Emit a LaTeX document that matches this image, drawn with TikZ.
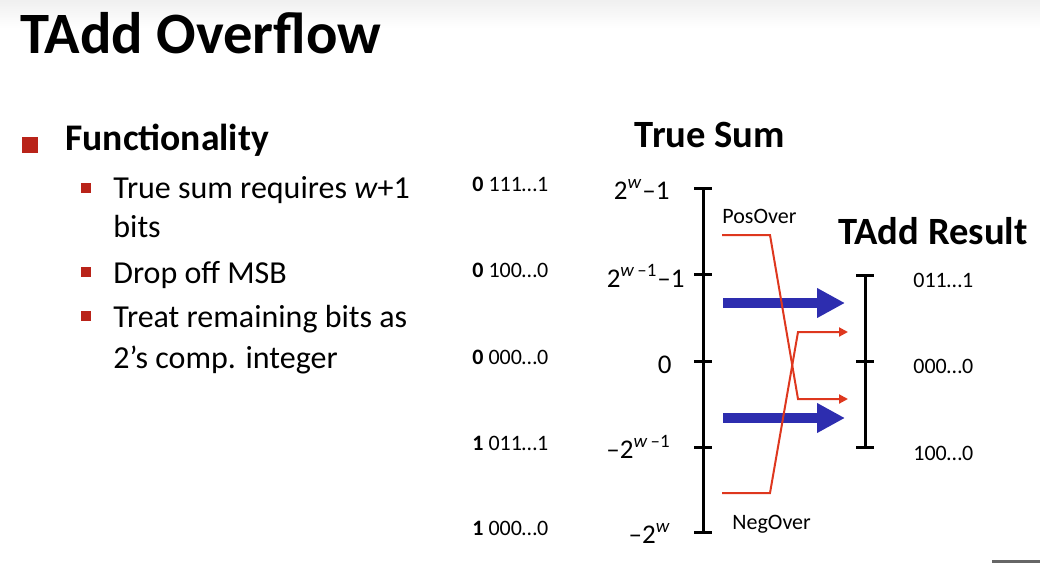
\documentclass[tikz,border=0pt]{standalone}
\usepackage{fontspec}
\setmainfont{Carlito}
\usetikzlibrary{arrows.meta}

\definecolor{slidered}{RGB}{185,35,25}
\definecolor{overred}{RGB}{222,55,30}
\definecolor{sumblue}{RGB}{45,45,175}

\tikzset{
  item/.style = {anchor=base west, inner sep=0pt, font=\fontsize{16}{18}\selectfont},
  bin/.style  = {anchor=base west, inner sep=0pt, font=\fontsize{11}{13}\selectfont},
  val/.style  = {anchor=base east, inner sep=0pt, font=\fontsize{13.5}{15}\selectfont},
  res/.style  = {anchor=base west, inner sep=0pt, font=\fontsize{11}{13}\selectfont},
  tag/.style  = {anchor=base west, inner sep=0pt, font=\fontsize{11}{13}\selectfont},
  head/.style = {inner sep=0pt, font=\bfseries\fontsize{19.3}{22}\selectfont},
  axis/.style = {line width=1.5pt},
  fat/.style  = {draw=sumblue, line width=5pt, -{Triangle[length=14pt,width=14pt]}},
  over/.style = {draw=overred, line width=1pt, -{Triangle[length=4.5pt,width=4.5pt]}}
}

\begin{document}
\begin{tikzpicture}[x = 0.5pt, y = -0.5pt]
\useasboundingbox (0, 0) rectangle (1040, 563);
\shade[top color = black!6, bottom color = white] (0, 0) rectangle (1040, 28);
%\draw[very thin, color = gray](0, 0) grid[step = 50] (1040, 563);
\node (title) at (20, 53) [anchor = base west, inner sep = 0pt, font = \bfseries\fontsize{29.3}{34}\selectfont] {TAdd Overflow};
\fill[slidered] (22, 137) rectangle (38, 153);
\node (func) at (65, 150) [anchor = base west, inner sep = 0pt, font = \bfseries\fontsize{18.8}{21}\selectfont] {Functionality};
\foreach \y in {188, 272, 316}
  \fill[slidered] (81, \y - 5) rectangle (91, \y + 5);
\node (req) at (113, 198) [item] {True sum requires \textit{w}+1};
\node (bits) at (113, 237) [item] {bits};
\node (msb) at (113, 283) [item] {Drop off MSB};
\node (treat) at (113, 327) [item] {Treat remaining bits as};
\node (comp) at (113, 368) [item] {2’s comp. integer};
% true sum scale
\node (bin0) at (472, 191) [bin] {\textbf{0} 111…1};
\node (bin1) at (472, 277) [bin] {\textbf{0} 100…0};
\node (bin2) at (472, 364) [bin] {\textbf{0} 000…0};
\node (bin3) at (472, 450) [bin] {\textbf{1} 011…1};
\node (bin4) at (472, 535) [bin] {\textbf{1} 000…0};
\draw[axis] (703, 188) -- (703, 532);
\foreach \y in {188, 274, 361, 447, 532}
  \draw[axis] (694, \y) -- (712, \y);
\node (val0) at (670, 199) [val] {2\textsuperscript{\textit{w}}–1};
\node (val1) at (685, 287) [val] {2\textsuperscript{\textit{w}\,–1}–1};
\node (val2) at (672, 373) [val] {0};
\node (val3) at (671, 458) [val] {–2\textsuperscript{\textit{w}\,–1}};
\node (val4) at (671, 543) [val] {–2\textsuperscript{\textit{w}}};
\node (truesum) at (710, 147) [anchor = base, head] {True Sum};
% result scale
\node (result) at (838, 244) [anchor = base west, head] {TAdd Result};
\draw[axis] (865, 275) -- (865, 447);
\foreach \y in {275, 361, 447}
  \draw[axis] (856, \y) -- (874, \y);
\node (res0) at (913, 287) [res] {011…1};
\node (res1) at (913, 373) [res] {000…0};
\node (res2) at (913, 460) [res] {100…0};
% arrows
\coordinate (hiFrom) at (723, 303);
\coordinate (hiTo) at (845, 303);
\coordinate (loFrom) at (723, 418);
\coordinate (loTo) at (845, 418);
\draw[fat] (hiFrom) -- (hiTo);
\draw[fat] (loFrom) -- (loTo);
\coordinate (posA) at (722, 235);
\coordinate (posB) at (770, 235);
\coordinate (posC) at (798, 399);
\coordinate (posD) at (848, 399);
\coordinate (negA) at (722, 493);
\coordinate (negB) at (770, 493);
\coordinate (negC) at (798, 332);
\coordinate (negD) at (848, 332);
\draw[over] (posA) -- (posB) -- (posC) -- (posD);
\draw[over] (negA) -- (negB) -- (negC) -- (negD);
\node (posover) at (722, 223) [tag] {PosOver};
\node (negover) at (732, 529) [tag] {NegOver};
\fill[black!60] (992, 560) rectangle (1040, 563);
\end{tikzpicture}
\end{document}
